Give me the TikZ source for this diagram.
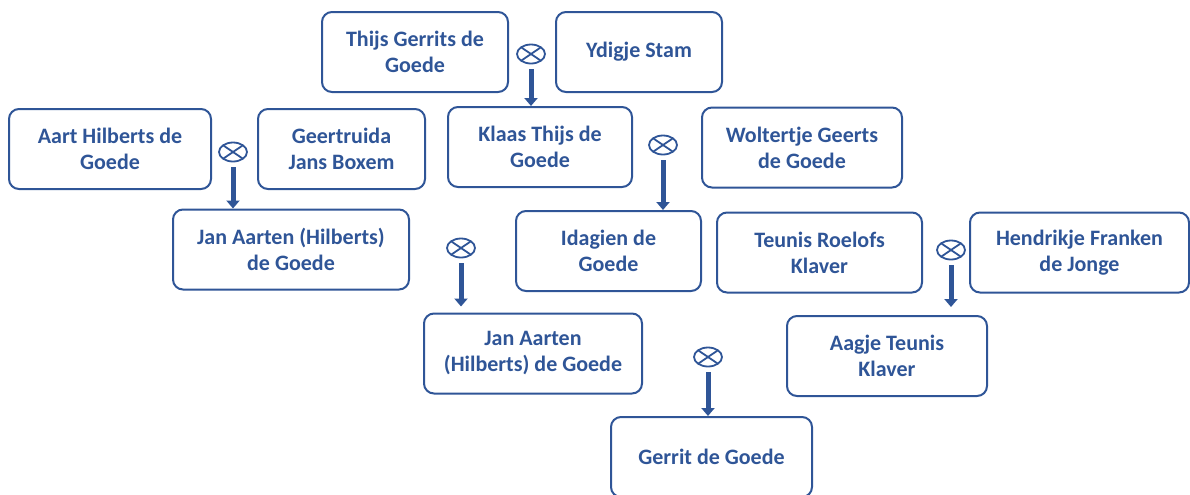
\documentclass[tikz,border=0pt]{standalone}
\usepackage{fontspec}
\setmainfont{Carlito}
\usetikzlibrary{shapes,arrows.meta,positioning}
\definecolor{famblue}{RGB}{47,85,151}

\begin{document}
\begin{tikzpicture}[x=0.5pt,y=-0.5pt,
    box/.style={draw=famblue,line width=1pt,rounded corners=5pt,align=center,text=famblue,font=\bfseries\fontsize{11}{13}\selectfont,minimum height=40pt,inner sep=0pt},
    wed/.style={draw=famblue,line width=0.9pt,ellipse,minimum width=14pt,minimum height=9.5pt,inner sep=0pt,
        path picture={\draw[famblue,line width=0.9pt] (path picture bounding box.north west) -- (path picture bounding box.south east) (path picture bounding box.north east) -- (path picture bounding box.south west);}},
    kid/.style={draw=famblue,line width=2.5pt,-{Triangle[width=6.5pt,length=4pt]}}]
    
    \useasboundingbox (0,0) rectangle (1190,494);
    
    \node[box,minimum width=93pt] (thijs) at (415,52) {Thijs Gerrits de\\Goede};
    \node[box,minimum width=83pt] (ydigje) at (639,52) {Ydigje Stam};
    \node[box,minimum width=92pt] (klaas) at (540,147) {Klaas Thijs de\\Goede};
    \node[box,minimum width=101pt] (aart) at (110,149) {Aart Hilberts de\\Goede};
    \node[box,minimum width=83.5pt] (geert) at (341.5,149) {Geertruida\\Jans Boxem};
    \node[box,minimum width=100pt] (wolt) at (802,147.5) {Woltertje Geerts\\de Goede};
    \node[box,minimum width=118pt] (jan1) at (291,249.5) {Jan Aarten (Hilberts)\\de Goede};
    \node[box,minimum width=92.5pt] (idag) at (608.5,251) {Idagien de\\Goede};
    \node[box,minimum width=102.5pt] (teun) at (819.5,252.5) {Teunis Roelofs\\Klaver};
    \node[box,minimum width=109.5pt] (hend) at (1079.5,252.5) {Hendrikje Franken\\de Jonge};
    \node[box,minimum width=109pt] (jan2) at (533,353.5) {Jan Aarten\\(Hilberts) de Goede};
    \node[box,minimum width=100pt] (aagje) at (887,356) {Aagje Teunis\\Klaver};
    \node[box,minimum width=100.5pt] (gerrit) at (711.5,457) {Gerrit de Goede};
    
    \node[wed] (m1) at (531,54) {};
    \node[wed] (m2) at (233,152) {};
    \node[wed] (m3) at (663,145) {};
    \node[wed] (m4) at (461,248) {};
    \node[wed] (m5) at (951,250) {};
    \node[wed] (m6) at (708,357) {};
    
    \draw[kid] ([yshift=-2.5pt]m1.south) -- (m1 |- klaas.north);
    \draw[kid] ([yshift=-2.5pt]m2.south) -- (m2 |- jan1.north);
    \draw[kid] ([yshift=-2.5pt]m3.south) -- (m3 |- idag.north);
    \draw[kid,shorten >=3pt] ([yshift=-2.5pt]m4.south) -- (m4 |- jan2.north);
    \draw[kid,shorten >=4pt] ([yshift=-2.5pt]m5.south) -- (m5 |- aagje.north);
    \draw[kid] ([yshift=-2.5pt]m6.south) -- (m6 |- gerrit.north);
    
\end{tikzpicture}
\end{document}
